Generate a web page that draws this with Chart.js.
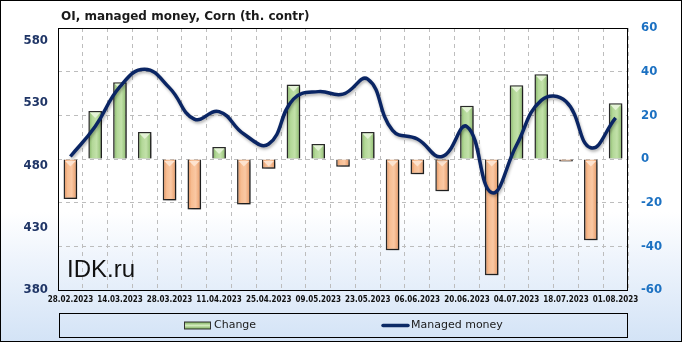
<!DOCTYPE html>
<html>
<head>
<meta charset="utf-8">
<script src="https://cdn.jsdelivr.net/npm/chart.js@4.4.0/dist/chart.umd.min.js"></script>
<style>
  html, body { margin: 0; padding: 0; background: #fff; }
  #wrap { width: 682px; height: 342px; }
</style>
</head>
<body>
<div id="wrap"><canvas id="c" width="682" height="342"></canvas></div>
<script>
const titleText = 'OI, managed money, Corn (th. contr)';
const watermark = 'IDK.ru';
const seriesNames = ['Change', 'Managed money'];
const dates = ['28.02.2023','07.03.2023','14.03.2023','21.03.2023','28.03.2023','04.04.2023','11.04.2023','18.04.2023','25.04.2023','02.05.2023','09.05.2023','16.05.2023','23.05.2023','30.05.2023','06.06.2023','13.06.2023','20.06.2023','27.06.2023','04.07.2023','11.07.2023','18.07.2023','25.07.2023','01.08.2023'];
const changeValues = [-18.3, 22.0, 35.1, 12.4, -19.0, -23.1, 5.5, -20.8, -4.5, 34.1, 6.9, -3.5, 12.4, -41.8, -7.0, -14.8, 24.4, -53.3, 33.8, 38.8, -0.5, -37.2, 25.5];
const managedValues = [487, 511, 543, 557, 542, 517, 523, 505, 497, 533, 539, 537, 549, 508, 501, 487, 511, 458, 496, 532, 531, 494, 518];
const leftTicks = [380, 430, 480, 530, 580];
const rightTicks = [-60, -40, -20, 0, 20, 40, 60];

function barFill(c) {
  const chart = c.chart;
  const xs = chart.scales.x;
  const v = c.raw;
  const pos = v >= 0;
  if (!xs || !chart.chartArea) return pos ? '#a9d18e' : '#f4b183';
  const x = xs.getPixelForValue(c.dataIndex);
  const g = chart.ctx.createLinearGradient(x - 7, 0, x + 7, 0);
  if (pos) {
    g.addColorStop(0, '#7fb05f');
    g.addColorStop(0.3, '#b3d898');
    g.addColorStop(0.6, '#c2e1a9');
    g.addColorStop(1, '#86b767');
  } else {
    g.addColorStop(0, '#e08b55');
    g.addColorStop(0.3, '#f7bd92');
    g.addColorStop(0.6, '#fac8a3');
    g.addColorStop(1, '#e3925d');
  }
  return g;
}

const decor = {
  id: 'decor',
  beforeDraw(chart) {
    const ctx = chart.ctx;
    ctx.save();
    const g = ctx.createLinearGradient(0, 0, 0, chart.height);
    g.addColorStop(0, '#ffffff');
    g.addColorStop(0.62, '#ffffff');
    g.addColorStop(0.76, '#eef4fc');
    g.addColorStop(1, '#d3e3f6');
    ctx.fillStyle = g;
    ctx.fillRect(0, 0, chart.width, chart.height);
    ctx.fillStyle = '#1a1a1a';
    ctx.font = 'bold 12px "DejaVu Sans"';
    ctx.textBaseline = 'alphabetic';
    ctx.textAlign = 'left';
    ctx.fillText(titleText, 61, 20);
    ctx.restore();
  },
  beforeDatasetsDraw(chart) {
    const ctx = chart.ctx;
    ctx.save();
    ctx.fillStyle = '#111';
    ctx.font = '24px "Liberation Sans"';
    ctx.textBaseline = 'alphabetic';
    ctx.textAlign = 'left';
    ctx.fillText(watermark, 67, 277);
    ctx.restore();
  },
  beforeDatasetDraw(chart, args) {
    const ctx = chart.ctx;
    ctx.save();
    if (args.index === 0) {
      ctx.shadowColor = 'rgba(0,0,0,0.45)';
      ctx.shadowBlur = 4;
      ctx.shadowOffsetX = 2;
      ctx.shadowOffsetY = 2;
    } else {
      ctx.shadowColor = 'rgba(0,0,0,0.3)';
      ctx.shadowBlur = 3;
      ctx.shadowOffsetX = 1;
      ctx.shadowOffsetY = 2;
    }
  },
  afterDatasetDraw(chart, args) {
    const ctx = chart.ctx;
    ctx.restore();
    if (args.index === 0) {
      const meta = chart.getDatasetMeta(0);
      ctx.save();
      meta.data.forEach((el, i) => {
        const p = el.getProps(['x', 'y', 'base', 'width'], true);
        const top = Math.min(p.y, p.base);
        const h = Math.abs(p.base - p.y);
        if (h < 8) return;
        const pos = changeValues[i] >= 0;
        const hw = p.width / 2 - 1.5;
        ctx.beginPath();
        ctx.moveTo(p.x - hw, top + 1.5);
        ctx.lineTo(p.x + hw, top + 1.5);
        ctx.lineTo(p.x, top + 7);
        ctx.closePath();
        ctx.fillStyle = pos ? '#e4f3d6' : '#fde3cf';
        ctx.fill();
      });
      ctx.restore();
    }
  },
  afterDraw(chart) {
    const ctx = chart.ctx;
    const a = chart.chartArea;
    ctx.save();
    ctx.strokeStyle = '#000';
    ctx.lineWidth = 1;
    ctx.strokeRect(Math.round(a.left) + 0.5, Math.round(a.top) + 0.5, Math.round(a.right - a.left) - 1, Math.round(a.bottom - a.top));
    ctx.strokeRect(0.5, 0.5, chart.width - 1, chart.height - 1);
    ctx.strokeRect(59.5, 313.5, 568, 24);
    const cy = 325.5;
    const sg = ctx.createLinearGradient(0, cy - 3, 0, cy + 3);
    sg.addColorStop(0, '#86b767');
    sg.addColorStop(0.5, '#d3ebbd');
    sg.addColorStop(1, '#86b767');
    ctx.fillStyle = sg;
    ctx.fillRect(184, cy - 3.5, 27, 7);
    ctx.strokeStyle = '#333';
    ctx.strokeRect(184.5, cy - 3.5, 26, 7);
    ctx.fillStyle = '#1a1a1a';
    ctx.font = '11px "DejaVu Sans"';
    ctx.textBaseline = 'middle';
    ctx.textAlign = 'left';
    ctx.fillText(seriesNames[0], 214, cy);
    ctx.strokeStyle = '#0c2a66';
    ctx.lineWidth = 3.5;
    ctx.lineCap = 'round';
    ctx.beginPath();
    ctx.moveTo(383, cy);
    ctx.lineTo(408, cy);
    ctx.stroke();
    ctx.fillText(seriesNames[1], 411, cy);
    ctx.restore();
  }
};

const ctx = document.getElementById('c').getContext('2d');
new Chart(ctx, {
  data: {
    labels: dates,
    datasets: [
      {
        type: 'bar',
        label: seriesNames[0],
        data: changeValues,
        yAxisID: 'y1',
        backgroundColor: barFill,
        borderColor: '#2b2b2b',
        borderWidth: 1.5,
        barPercentage: 0.55,
        categoryPercentage: 1,
        minBarLength: 2.5,
        order: 1
      },
      {
        type: 'line',
        label: seriesNames[1],
        data: managedValues,
        yAxisID: 'y',
        borderColor: '#0a2564',
        borderWidth: 3.5,
        tension: 0.45,
        pointRadius: 0,
        fill: false,
        order: 0
      }
    ]
  },
  options: {
    responsive: false,
    animation: false,
    events: [],
    layout: { padding: { top: 28, bottom: 32, left: 0, right: 0 } },
    plugins: { legend: { display: false }, tooltip: { enabled: false }, title: { display: false } },
    scales: {
      x: {
        grid: { offset: true, color: '#bdbdbd', drawTicks: false, lineWidth: 1 },
        border: { display: false, dash: [4, 4] },
        ticks: {
          autoSkip: false, maxRotation: 0, minRotation: 0, padding: 5,
          color: '#111',
          font: { family: '"DejaVu Sans Condensed"', weight: 'bold', size: 8 },
          callback: (v, i) => (i % 2 === 0 ? dates[i] : '')
        },
        afterFit: s => { s.height = 20; }
      },
      y: {
        position: 'left',
        min: 380, max: 590,
        grid: { display: false, drawTicks: false },
        border: { display: false },
        ticks: {
          padding: 10, color: '#1f3566',
          font: { family: '"DejaVu Sans Condensed"', weight: 'bold', size: 13 }
        },
        afterBuildTicks: s => { s.ticks = leftTicks.map(v => ({ value: v })); },
        afterFit: s => { s.width = 58; }
      },
      y1: {
        position: 'right',
        min: -60, max: 60,
        grid: { color: '#bdbdbd', drawTicks: false, lineWidth: 1 },
        border: { display: false, dash: [4, 4] },
        ticks: {
          padding: 13, color: '#1c71c2',
          font: { family: '"DejaVu Sans Condensed"', weight: 'bold', size: 13 }
        },
        afterBuildTicks: s => { s.ticks = rightTicks.map(v => ({ value: v })); },
        afterFit: s => { s.width = 54; }
      }
    }
  },
  plugins: [decor]
});
</script>
</body>
</html>
